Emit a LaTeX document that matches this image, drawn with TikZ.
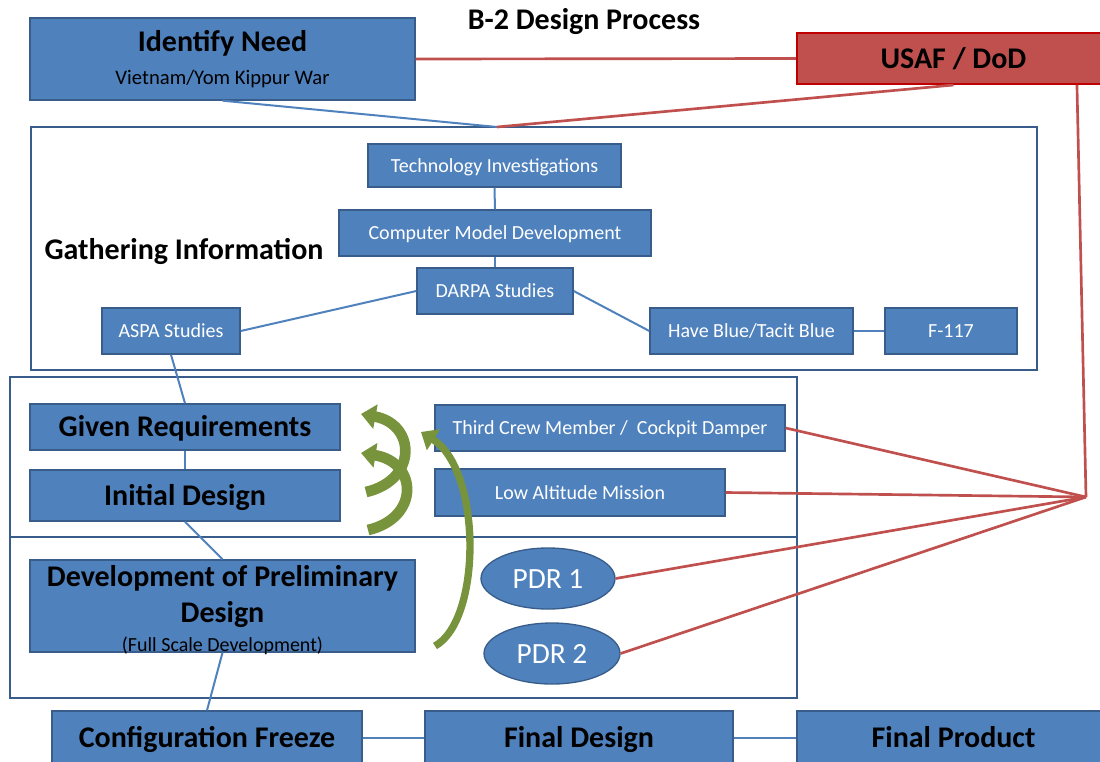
\documentclass[tikz,border=0pt]{standalone}
\usepackage{fontspec}
\setmainfont{Carlito}
\usetikzlibrary{shapes.geometric,arrows.meta}
\definecolor{boxblue}{HTML}{4F81BD}
\definecolor{boxline}{HTML}{385D8A}
\definecolor{usafred}{HTML}{C0504D}
\definecolor{usafline}{HTML}{C00000}
\definecolor{loopgreen}{HTML}{77933C}

\tikzset{
    dims/.style 2 args={minimum width={#1*0.75pt}, minimum height={#2*0.75pt}},
    box/.style={draw=boxline, fill=boxblue, line width=1pt, inner sep=0pt, text=white,
        font=\fontsize{15}{18}\selectfont, text height=13.5pt, text depth=3.5pt},
    bigbox/.style={draw=boxline, fill=boxblue, line width=1pt, inner sep=0pt, text=black,
        font=\fontsize{22.5}{27}\selectfont\bfseries},
    bigline/.style={bigbox, text height=19.5pt, text depth=5pt},
    frame/.style={draw=boxline, line width=1.5pt, inner sep=0pt},
    link/.style={draw=boxblue, line width=1.5pt},
    redlink/.style={draw=usafred, line width=2pt},
    loop/.style={draw=loopgreen, line width=#1, line cap=butt, -{Triangle[width=18pt,length=11pt]}},
}

\begin{document}
\begin{tikzpicture}[x=0.75pt, y=-0.75pt]
    \useasboundingbox (0,0) rectangle (1100,761);
    \clip (0,0) rectangle (1100,761);

    % Title and the two top boxes
    \node[font=\fontsize{22.5}{27}\selectfont\bfseries] (title) at (584,22) {B-2 Design Process};
    \node[bigbox, dims={385}{82}, align=center] (need) at (222.5,59)
        {Identify Need\\[-2pt]{\fontsize{15.5}{18}\selectfont\mdseries Vietnam/Yom Kippur War}};
    \node[bigline, dims={313}{51}, fill=usafred, draw=usafline, line width=1.5pt] (usaf) at (953.5,58.5) {USAF / DoD};

    % Three frames
    \node[frame, dims={1006}{243}] (gather) at (534,248.5) {};
    \node[frame, dims={787}{160}] (reqframe) at (403.5,457) {};
    \node[frame, dims={787}{161}] (preframe) at (403.5,617.5) {};
    \coordinate (gtop) at (497,127);
    \coordinate (hub) at (1086,497);

    % Gathering information
    \node[font=\fontsize{22.5}{27}\selectfont\bfseries] (gtitle) at (184,251) {Gathering Information};
    \node[box, dims={253}{43}] (tech) at (494.5,165.5) {Technology Investigations};
    \node[box, dims={312}{46}] (model) at (495,233) {Computer Model Development};
    \node[box, dims={156}{46}] (darpa) at (495,291) {DARPA Studies};
    \node[box, dims={138}{46}] (aspa) at (171,331) {ASPA Studies};
    \node[box, dims={203}{46}] (blue) at (751.5,331) {Have Blue/Tacit Blue};
    \node[box, dims={132}{46}] (f117) at (951,331) {F-117};

    % Requirements and preliminary design
    \node[bigline, dims={310}{46}] (given) at (185,427) {Given Requirements};
    \node[bigline, dims={310}{51}] (initial) at (185,495.5) {Initial Design};
    \node[box, dims={350}{46}] (crew) at (610,428) {Third Crew Member / \ Cockpit Damper};
    \node[box, dims={290}{47}] (lowalt) at (580,492.5) {Low Altitude Mission};
    \node[bigbox, dims={385}{92}, align=center] (prelim) at (222.5,606) {};
    \node[font=\fontsize{22.5}{27}\selectfont\bfseries, align=center] (prelimtext) at (222.5,610)
        {Development of Preliminary\\Design\\[-5pt]{\fontsize{15}{17}\selectfont\mdseries (Full Scale Development)}};
    \node[box, ellipse, dims={134}{61}, font=\fontsize{22}{26}\selectfont, text height=15pt, text depth=0pt] (pdr1) at (548,578.5) {PDR 1};
    \node[box, ellipse, dims={136}{61}, font=\fontsize{22}{26}\selectfont, text height=15pt, text depth=0pt] (pdr2) at (552,653.5) {PDR 2};

    % Bottom row
    \node[bigline, dims={310}{54}] (freeze) at (207,738) {Configuration Freeze};
    \node[bigline, dims={308}{54}] (final) at (579,738) {Final Design};
    \node[bigline, dims={313}{54}] (product) at (953.5,738) {Final Product};

    % Blue links
    \draw[link] (need.south) -- (gtop);
    \draw[link] (tech) -- (model);
    \draw[link] (model) -- (darpa);
    \draw[link] (darpa.west) -- (aspa.east);
    \draw[link] (darpa.east) -- (blue.west);
    \draw[link] (blue) -- (f117);
    \draw[link] (aspa.south) -- (given.north);
    \draw[link] (given) -- (initial);
    \draw[link] (initial.south) -- (prelim.north);
    \draw[link] (prelim.south) -- (freeze.north);
    \draw[link] (freeze) -- (final);
    \draw[link] (final) -- (product);

    % Red links to USAF / DoD
    \draw[redlink] (need.east) -- (usaf.west);
    \draw[redlink] (usaf.south) -- (gtop);
    \draw[redlink] ([xshift=92.6pt]usaf.south) -- (hub);
    \foreach \src in {crew, lowalt, pdr1, pdr2} {
        \draw[redlink] (\src.east) -- (hub);
    }

    % Green loop arrows
    \draw[loop=8pt] (368,530) .. controls (420,518) and (418,462) .. (361,453);
    \draw[loop=8pt] (366,492) .. controls (418,480) and (416,424) .. (361,414);
    \draw[loop=5.5pt] (435,646) .. controls (482,620) and (482,470) .. (421,432);
\end{tikzpicture}
\end{document}
